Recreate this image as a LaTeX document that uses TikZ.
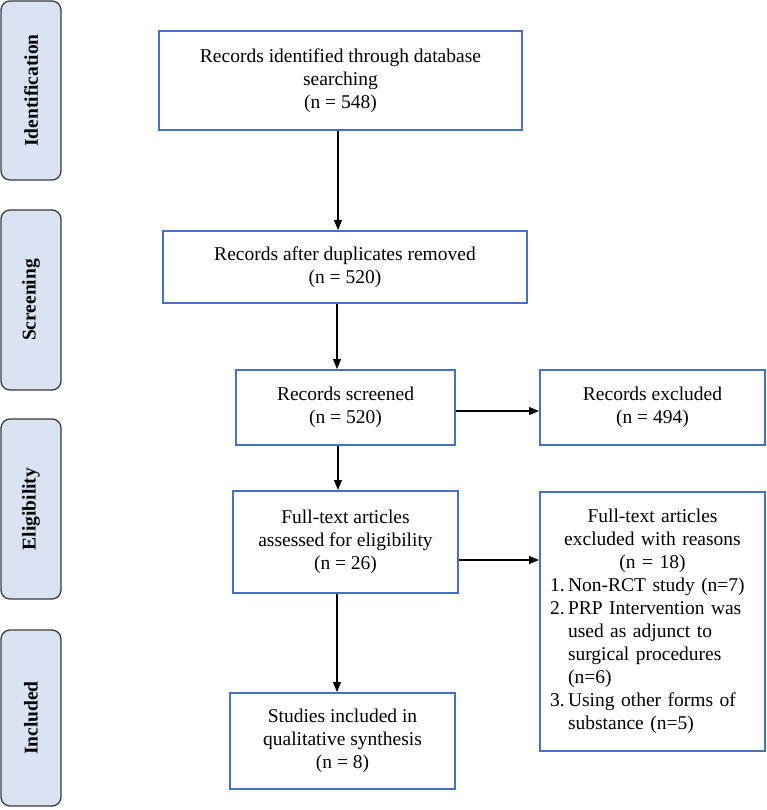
\documentclass[tikz,border=0pt]{standalone}
\usepackage{fontspec}
\setmainfont{Liberation Serif}
\usetikzlibrary{arrows.meta}
\definecolor{boxblue}{HTML}{4472C4}
\definecolor{sidefill}{HTML}{DAE3F3}
\definecolor{sidedraw}{HTML}{3A3A3A}
\tikzset{
  flowbox/.style={draw=boxblue, line width=2pt, fill=white, align=center,
    inner sep=0pt, font=\fontsize{19.5}{23}\selectfont},
  sidebox/.style={draw=sidedraw, fill=sidefill, line width=1.3pt, rounded corners=9pt,
    minimum width=60pt, inner sep=0pt},
  sidelabel/.style={rotate=90, font=\fontsize{19.5}{23}\selectfont\bfseries},
  arr/.style={-{Triangle[length=10pt,width=8pt]}, line width=1.1pt, black}
}
\begin{document}
\begin{tikzpicture}[x=1pt,y=-1pt]
\useasboundingbox (0,0) rectangle (766,810);
% side stage boxes
\node[sidebox, minimum height=179pt] (sid) at (31,90.5) {};
\node[sidelabel] (sidt) at (sid.center) {Identification};
\node[sidebox, minimum height=180pt] (sscr) at (31,300) {};
\node[sidelabel] (sscrt) at (sscr.center) {Screening};
\node[sidebox, minimum height=180pt] (seli) at (31,509) {};
\node[sidelabel] (selit) at (seli.center) {Eligibility};
\node[sidebox, minimum height=176pt] (sinc) at (31,718) {};
\node[sidelabel] (sinct) at (sinc.center) {Included};
% main boxes
\node[flowbox, minimum width=363pt, minimum height=99pt] (b1) at (340.5,80.5)
  {Records identified through database\\searching\\(n = 548)};
\node[flowbox, minimum width=364pt, minimum height=72pt] (b2) at (345,267)
  {Records after duplicates removed\\(n = 520)};
\node[flowbox, minimum width=219pt, minimum height=75pt] (b3) at (345.5,407.5)
  {Records screened\\(n = 520)};
\node[flowbox, minimum width=225pt, minimum height=75pt] (b4) at (652.5,407.5)
  {Records excluded\\(n = 494)};
\node[flowbox, minimum width=225pt, minimum height=102pt] (b5) at (345.5,542)
  {Full-text articles\\assessed for eligibility\\(n = 26)};
\node[flowbox, minimum width=225pt, minimum height=259pt, text width=205pt, align=left] (b6) at (652.5,621.5)
  {\centering Full-text articles\\excluded with reasons\\(n = 18)\par
   \raggedright
   \makebox[18pt][l]{1.}Non-RCT study (n=7)\\
   \makebox[18pt][l]{2.}PRP Intervention was\\
   \hspace*{18pt}used as adjunct to\\
   \hspace*{18pt}surgical procedures\\
   \hspace*{18pt}(n=6)\\
   \makebox[18pt][l]{3.}Using other forms of\\
   \hspace*{18pt}substance (n=5)\par};
\node[flowbox, minimum width=225pt, minimum height=96pt] (b7) at (342.5,741)
  {Studies included in\\qualitative synthesis\\(n = 8)};
% connector guides
\coordinate (xa) at (338,0);
\coordinate (xb) at (337,0);
\coordinate (ya) at (0,411);
\coordinate (yb) at (0,560);
\draw[arr] (b1.south -| xa) -- (b2.north -| xa);
\draw[arr] (b2.south -| xb) -- (b3.north -| xb);
\draw[arr] (b3.south -| xa) -- (b5.north -| xa);
\draw[arr] (b5.south -| xb) -- (b7.north -| xb);
\draw[arr] (b3.east |- ya) -- (b4.west |- ya);
\draw[arr] (b5.east |- yb) -- (b6.west |- yb);
\end{tikzpicture}
\end{document}
